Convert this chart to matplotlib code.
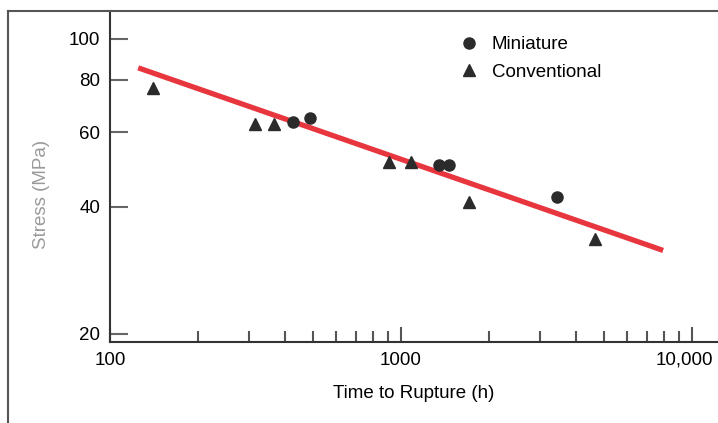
import matplotlib.pyplot as plt
import numpy as np
from matplotlib.lines import Line2D
from matplotlib.ticker import FixedLocator, NullFormatter
from matplotlib.transforms import ScaledTranslation

plt.rcParams['font.family'] = ['Liberation Sans', 'DejaVu Sans']

# miniature specimens (time to rupture h, stress MPa)
mini_t = [427, 488, 1349, 1460, 3450]
mini_s = [63.6, 65.0, 50.3, 50.3, 42.2]
# conventional specimens
conv_t = [140, 314, 365, 910, 1082, 1710, 4660]
conv_s = [76.6, 62.9, 62.9, 51.1, 51.1, 41.1, 33.6]
# fitted line end points
fit_t = [125, 7960]
fit_s = [85.4, 31.5]

y_ticks = [20, 40, 60, 80, 100]
x_ticks = [100, 1000, 10000]
x_labels = ['100', '1000', '10,000']

fig = plt.figure(figsize=(7.18, 4.23), dpi=100)
ax = fig.add_axes([110/718, 81/423, 608/718, 331/423])
ax.set_xscale('log')
ax.set_yscale('log')
ax.set_xlim(100, 12290)
ax.set_ylim(19.1, 116.5)

ax.plot(fit_t, fit_s, color='#e8363f', lw=3.8, solid_capstyle='butt', zorder=2)
ax.plot(mini_t, mini_s, 'o', color='#2b2b2b', ms=8, ls='none', label='Miniature', zorder=3)
ax.plot(conv_t, conv_s, '^', color='#2b2b2b', ms=9, ls='none', label='Conventional', zorder=3)

for s in ['top', 'right']:
    ax.spines[s].set_visible(False)
for s in ['left', 'bottom']:
    ax.spines[s].set_color('#333333')
    ax.spines[s].set_linewidth(1.5)

ax.yaxis.set_major_locator(FixedLocator(y_ticks))
ax.yaxis.set_minor_locator(FixedLocator([]))
ax.set_yticklabels([str(v) for v in y_ticks])
ax.tick_params(axis='y', which='major', direction='in', length=13, width=1.5,
               color='#666666', pad=7, labelsize=13.5)

ax.xaxis.set_major_locator(FixedLocator(x_ticks))
ax.set_xticklabels(x_labels)
ax.xaxis.set_minor_locator(FixedLocator([200, 300, 400, 500, 600, 700, 800, 900,
                                         2000, 3000, 4000, 5000, 6000, 7000, 8000, 9000]))
ax.xaxis.set_minor_formatter(NullFormatter())
ax.tick_params(axis='x', which='major', direction='in', length=11, width=1.5,
               color='#555555', pad=7, labelsize=13.5)
ax.tick_params(axis='x', which='minor', direction='in', length=8, width=1.5,
               color='#555555')
# last label sits a little left of its tick in the original
last = ax.get_xticklabels()[-1]
last.set_transform(last.get_transform() + ScaledTranslation(-8/100, 0, fig.dpi_scale_trans))

ax.set_xlabel('Time to Rupture (h)', fontsize=13.5, labelpad=12)
fig.text(41/718, 1 - 194/423, 'Stress (MPa)', rotation=90, ha='center', va='center',
         fontsize=13.5, color='#9a9a9a')

ax.legend(loc='upper left', bbox_to_anchor=((458 - 110)/608, (342 - 36)/331),
          frameon=False, fontsize=13.5, handletextpad=0.6, labelspacing=0.55,
          borderaxespad=0, borderpad=0, handlelength=1.2)

# outer frame
fig.add_artist(Line2D([8/718, 8/718], [0, 1 - 11/423], color='#555555', lw=1.5))
fig.add_artist(Line2D([8/718, 1], [1 - 11/423, 1 - 11/423], color='#555555', lw=1.5))

fig.savefig('out.png', dpi=100)
